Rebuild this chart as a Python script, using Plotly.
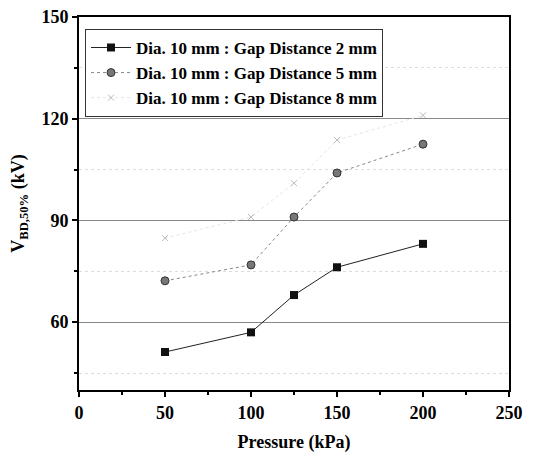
import plotly.graph_objects as go

pressure = [50, 100, 125, 150, 200]
gap2 = [51.2, 57.0, 68.0, 76.2, 83.1]
gap5 = [72.2, 76.9, 91.0, 104.0, 112.5]
gap8 = [84.8, 91.0, 101.0, 113.7, 121.0]
names = ["Dia. 10 mm : Gap Distance 2 mm",
         "Dia. 10 mm : Gap Distance 5 mm",
         "Dia. 10 mm : Gap Distance 8 mm"]
ytick_vals = [60, 90, 120, 150]
xtick_vals = [0, 50, 100, 150, 200, 250]

FONT = "Liberation Serif"

fig = go.Figure()
fig.add_trace(go.Scatter(x=pressure, y=gap2, name=names[0], mode="lines+markers",
                         line=dict(color="#222222", width=1),
                         marker=dict(symbol="square", size=8, color="#111111")))
fig.add_trace(go.Scatter(x=pressure, y=gap5, name=names[1], mode="lines+markers",
                         line=dict(color="#888888", width=1, dash="dot"),
                         marker=dict(symbol="circle", size=8, color="#777777",
                                     line=dict(color="#333333", width=1))))
fig.add_trace(go.Scatter(x=pressure, y=gap8, name=names[2], mode="lines+markers",
                         line=dict(color="#e4e4e4", width=1, dash="dot"),
                         marker=dict(symbol="x-thin", size=6, color="#cccccc",
                                     line=dict(color="#bbbbbb", width=1))))

fig.update_layout(
    width=536, height=459,
    margin=dict(l=79, r=27, t=17, b=69, autoexpand=False),
    paper_bgcolor="white", plot_bgcolor="white",
    font=dict(family=FONT, color="black", size=16),
    showlegend=True,
    legend=dict(x=0.014, y=0.968, xanchor="left", yanchor="top",
                bgcolor="white", bordercolor="#333333", borderwidth=1,
                font=dict(family=FONT, size=17, color="black", weight="bold"),
                tracegroupgap=0, itemwidth=40),
    xaxis=dict(range=[0, 250], tickvals=xtick_vals, ticks="outside", ticklen=5,
               tickwidth=1.5, tickcolor="black", automargin=False,
               ticklabeloverflow="allow",
               minor=dict(tickvals=[25, 75, 125, 175, 225], ticks="outside", ticklen=3,
                          tickcolor="black"),
               showline=True, linecolor="black", linewidth=2, mirror=True,
               showgrid=False, zeroline=False,
               tickfont=dict(family=FONT, size=18, color="black", weight="bold"),
               title=dict(text="<b>Pressure (kPa)</b>",
                          font=dict(family=FONT, size=18, weight="bold"),
                          standoff=14)),
    yaxis=dict(range=[40, 150], tickvals=ytick_vals, ticks="outside", ticklen=5,
               tickwidth=1.5, tickcolor="black", automargin=False,
               ticklabeloverflow="allow",
               minor=dict(tickvals=[45, 75, 105, 135], ticks="outside", ticklen=3,
                          tickcolor="black", showgrid=True, gridcolor="#dddddd",
                          griddash="dot", gridwidth=1),
               showline=True, linecolor="black", linewidth=2, mirror=True,
               showgrid=True, gridcolor="#888888", gridwidth=1, zeroline=False,
               tickfont=dict(family=FONT, size=18, color="black", weight="bold"),
               title=dict(text="<b>V<sub>BD,50%</sub> (kV)</b>",
                          font=dict(family=FONT, size=18, weight="bold"), standoff=12)),
)

fig.write_html("out.html", config={"displayModeBar": False},
               post_script="document.body.style.margin='0px';")
